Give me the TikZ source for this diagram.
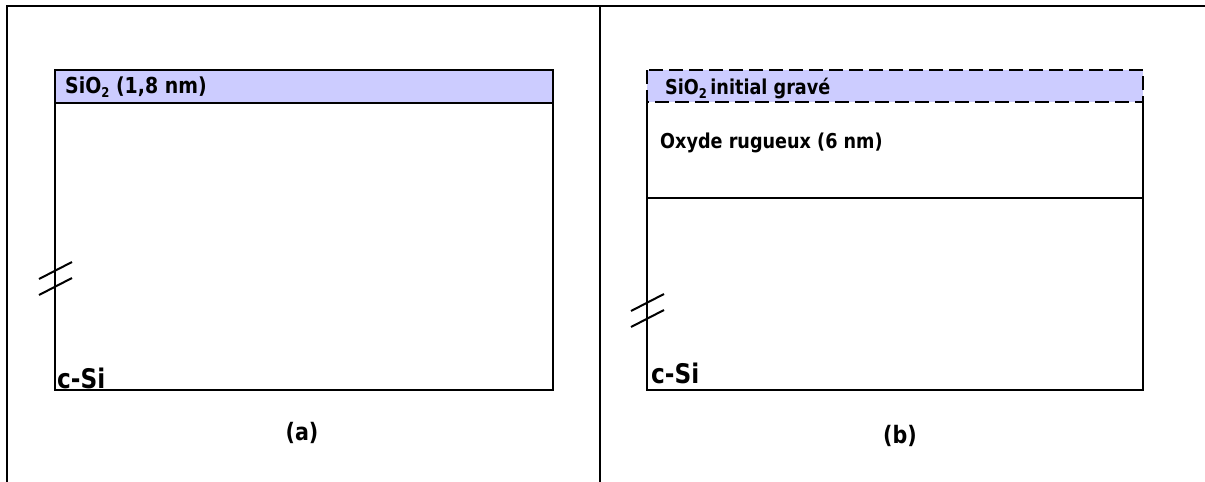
\documentclass[tikz,border=0pt]{standalone}
\usepackage{fontspec}
\setmainfont{DejaVu Sans}[FakeStretch=0.86]
\usetikzlibrary{positioning}
\definecolor{oxfill}{HTML}{CCCCFF}
\newcommand{\lowidx}[1]{\raisebox{-0.3ex}{\fontsize{13.5}{13.5}\selectfont #1}}

\begin{document}
\begin{tikzpicture}[x=1pt,y=-1pt,
frame/.style={draw=black,line width=1.8pt},
layer/.style={draw=black,line width=1.6pt},
oxband/.style={fill=oxfill},
etched/.style={draw=black,line width=2.6pt,dash pattern=on 14pt off 6pt},
breakmark/.style={draw=black,line width=2pt},
lbl/.style={font=\bfseries\fontsize{20.5}{22}\selectfont,inner sep=0pt},
sublbl/.style={font=\bfseries\fontsize{27}{29}\selectfont,inner sep=0pt},
caption/.style={font=\bfseries\fontsize{24}{26}\selectfont,inner sep=0pt}]
\useasboundingbox (0,0) rectangle (1205,482);
% outer frame and divider
\draw[frame] (7,482) -- (7,6) -- (1205,6);
\draw[frame] (600,6) -- (600,482);
% (a) initial stack
\fill[oxband] (55,70) rectangle (553,103);
\draw[layer] (55,70) rectangle (553,103);
\draw[layer] (55,103) rectangle (553,390);
\draw[breakmark] (39,279) -- (72,262);
\draw[breakmark] (39,295) -- (72,278);
\node[lbl,anchor=west] (oxa) at (65,87) {\fontsize{22}{24}\selectfont SiO\lowidx{2} (1,8 nm)};
\node[sublbl,anchor=base west] (sia) at (57,388) {c-Si};
\node[caption] (capa) at (302,433) {(a)};
% (b) after etching
\fill[oxband] (647,70) rectangle (1143,102);
\draw[etched] (647,70) rectangle (1143,102);
\draw[layer] (647,102) -- (647,390) -- (1143,390) -- (1143,102);
\draw[layer] (647,198) -- (1143,198);
\draw[breakmark] (631,311) -- (664,294);
\draw[breakmark] (631,327) -- (664,310);
\node[lbl,anchor=west] (oxb) at (665,89) {SiO\lowidx{2}\,initial gravé};
\node[lbl,anchor=west] (rough) at (660,143) {Oxyde rugueux (6 nm)};
\node[sublbl,anchor=base west] (sib) at (651,383) {c-Si};
\node[caption] (capb) at (900,436) {(b)};
\end{tikzpicture}
\end{document}
